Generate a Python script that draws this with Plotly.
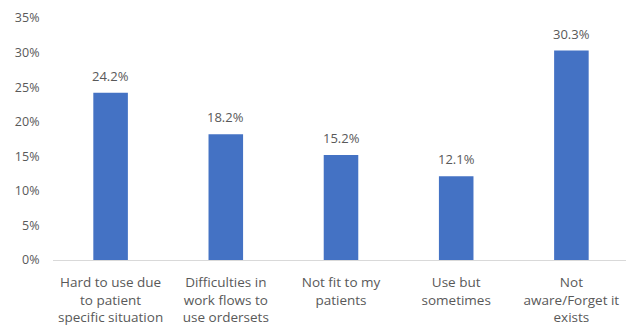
import plotly.graph_objects as go

categories = [
    "Hard to use due<br>to patient<br>specific situation",
    "Difficulties in<br>work flows to<br>use ordersets",
    "Not fit to my<br>patients",
    "Use but<br>sometimes",
    "Not<br>aware/Forget it<br>exists",
]
values = [24.2, 18.2, 15.2, 12.1, 30.3]
y_ticks = [0, 5, 10, 15, 20, 25, 30, 35]
y_tick_labels = [f"{v}%" for v in y_ticks]

FONT = "Open Sans"
GRAY = "#595959"

xs = list(range(len(categories)))

fig = go.Figure(
    go.Bar(
        x=xs,
        y=values,
        marker=dict(color="#4472C4", line=dict(width=0)),
        cliponaxis=False,
    )
)

for x, v in zip(xs, values):
    fig.add_annotation(
        x=x, y=v, text=f"{v:.1f}%", showarrow=False,
        yanchor="bottom", yshift=6,
        font=dict(family=FONT, size=13, color=GRAY),
    )

fig.update_layout(
    width=626,
    height=328,
    margin=dict(l=53, r=0, t=18, b=68),
    paper_bgcolor="white",
    plot_bgcolor="white",
    bargap=0.70,
    showlegend=False,
    font=dict(family=FONT, color=GRAY, size=12),
)

fig.update_xaxes(
    tickmode="array",
    tickvals=xs,
    ticktext=categories,
    range=[-0.5, 4.474],
    showline=True,
    linecolor="#D9D9D9",
    linewidth=1,
    ticks="outside",
    ticklen=10,
    tickcolor="rgba(0,0,0,0)",
    tickfont=dict(family=FONT, size=13.5, color=GRAY),
    showgrid=False,
    zeroline=False,
)

fig.update_yaxes(
    range=[0, 35],
    tickmode="array",
    tickvals=y_ticks,
    ticktext=y_tick_labels,
    showgrid=False,
    zeroline=False,
    showline=False,
    ticks="outside",
    ticklen=10,
    tickcolor="rgba(0,0,0,0)",
    tickfont=dict(family=FONT, size=12.5, color=GRAY),
)

fig.write_html("out.html")
